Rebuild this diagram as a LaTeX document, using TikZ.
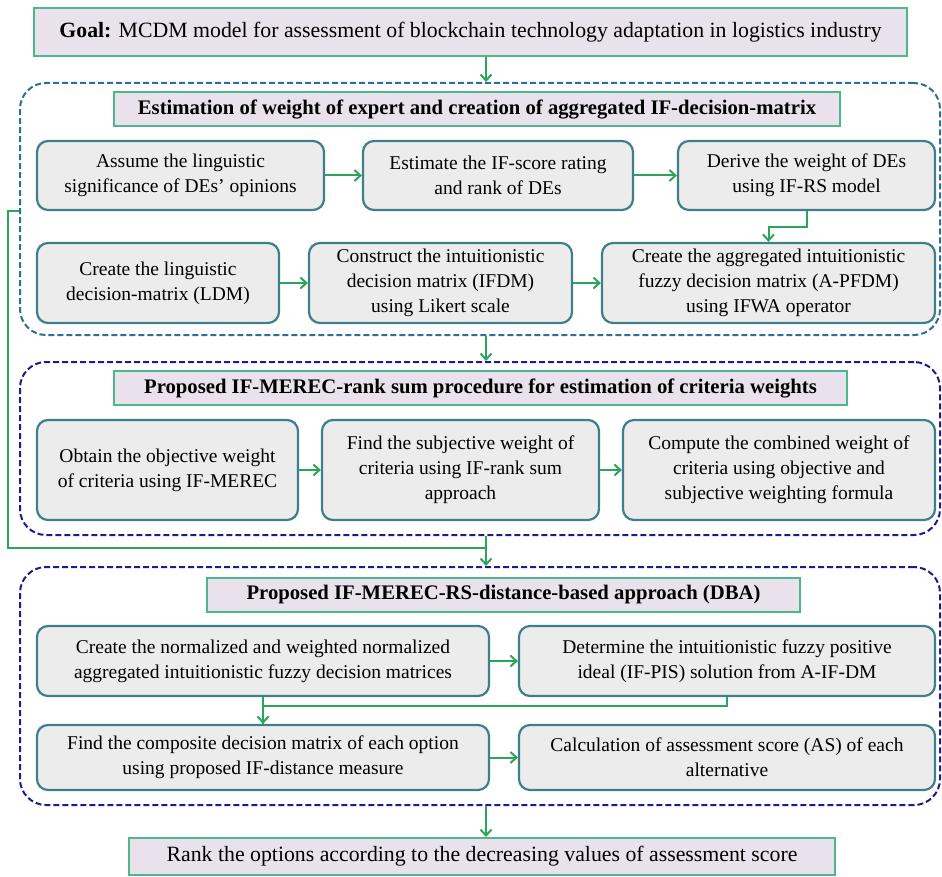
\documentclass[tikz,border=0pt]{standalone}
\usepackage{fontspec}
\setmainfont{Liberation Serif}
\usetikzlibrary{arrows.meta}
\definecolor{lav}{HTML}{E9E1EC}
\definecolor{hgreen}{HTML}{4DB68A}
\definecolor{pfill}{HTML}{ECECEC}
\definecolor{pborder}{HTML}{3F7F8C}
\definecolor{cteal}{HTML}{2D6F97}
\definecolor{cnavy}{HTML}{1C1C8C}
\definecolor{agreen}{HTML}{2EA35A}
\begin{document}
\begin{tikzpicture}[x=1pt,y=-1pt,
  txt/.style={font=\fontsize{19.5}{25}\selectfont},
  pbox/.style={txt, draw=pborder, line width=2.2pt, fill=pfill, rounded corners=11pt, align=center, inner sep=0pt},
  hbox/.style={draw=hgreen, line width=2pt, fill=lav, align=center, inner sep=0pt},
  htxt/.style={font=\fontsize{20.7}{25}\selectfont\bfseries},
  gtxt/.style={font=\fontsize{21.8}{25}\selectfont},
  cont/.style={draw=#1, line width=2pt, dash pattern=on 6pt off 3pt, rounded corners=26pt, minimum width=920pt, inner sep=0pt},
  gline/.style={draw=agreen, line width=2pt},
  arr/.style={gline, -{Straight Barb[length=6pt,width=11pt]}},
]
\useasboundingbox (0,0) rectangle (942,877);
\coordinate (sp) at (486,0);
\coordinate (jn) at (486,548);

% containers
\node[cont=cteal, minimum height=252pt] (c1) at (480,209) {};
\node[cont=cnavy, minimum height=173pt] (c2) at (480,448.5) {};
\node[cont=cnavy, minimum height=238pt] (c3) at (480,686) {};

% goal and headers
\node[hbox, gtxt, minimum width=873pt, minimum height=48pt] (goal) at (470.5,32) {\textbf{Goal:} MCDM model for assessment of blockchain technology adaptation in logistics industry};
\node[hbox, htxt, minimum width=726pt, minimum height=34pt] (h1) at (477,109) {Estimation of weight of expert and creation of aggregated IF-decision-matrix};
\node[hbox, htxt, minimum width=733pt, minimum height=34pt] (h2) at (480.5,388) {Proposed IF-MEREC-rank sum procedure for estimation of criteria weights};
\node[hbox, htxt, minimum width=593pt, minimum height=34pt] (h3) at (503.5,595) {Proposed IF-MEREC-RS-distance-based approach (DBA)};
\node[hbox, gtxt, minimum width=706pt, minimum height=37pt] (fin) at (482,856.5) {Rank the options according to the decreasing values of assessment score};

% row 1
\node[pbox, minimum width=287pt, minimum height=69pt] (A) at (180.5,175.5) {Assume the linguistic\\significance of DEs’ opinions};
\node[pbox, minimum width=270pt, minimum height=69pt] (B) at (498,175.5) {Estimate the IF-score rating\\and rank of DEs};
\node[pbox, minimum width=257pt, minimum height=69pt] (C) at (806.5,175.5) {Derive the weight of DEs\\using IF-RS model};
% row 2
\node[pbox, minimum width=242pt, minimum height=80pt] (D) at (158,283) {Create the linguistic\\decision-matrix (LDM)};
\node[pbox, minimum width=263pt, minimum height=80pt] (E) at (440.5,283) {Construct the intuitionistic\\decision matrix (IFDM)\\using Likert scale};
\node[pbox, minimum width=333pt, minimum height=80pt] (F) at (768.5,283) {Create the aggregated intuitionistic\\fuzzy decision matrix (A-PFDM)\\using IFWA operator};
% row 3
\node[pbox, minimum width=261pt, minimum height=100pt] (G) at (167.5,470) {Obtain the objective weight\\of criteria using IF-MEREC};
\node[pbox, minimum width=277pt, minimum height=100pt] (H) at (460.5,470) {Find the subjective weight of\\criteria using IF-rank sum\\approach};
\node[pbox, minimum width=312pt, minimum height=100pt] (I) at (779,470) {Compute the combined weight of\\criteria using objective and\\subjective weighting formula};
% row 4
\node[pbox, minimum width=452pt, minimum height=70pt] (J) at (263,661) {Create the normalized and weighted normalized\\aggregated intuitionistic fuzzy decision matrices};
\node[pbox, minimum width=416pt, minimum height=70pt] (K) at (727,661) {Determine the intuitionistic fuzzy positive\\ideal (IF-PIS) solution from A-IF-DM};
% row 5
\node[pbox, minimum width=452pt, minimum height=65pt] (L) at (263,757.5) {Find the composite decision matrix of each option\\using proposed IF-distance measure};
\node[pbox, minimum width=416pt, minimum height=65pt] (M) at (727,757.5) {Calculation of assessment score (AS) of each\\alternative};

% connectors
\draw[arr] (goal.south -| sp) -- (c1.north -| sp);
\draw[arr] (c1.south -| sp) -- (c2.north -| sp);
\draw[arr] (c2.south -| sp) -- (c3.north -| sp);
\draw[arr] (c3.south -| sp) -- (fin.north -| sp);
\draw[gline] (c1.west |- A.south) -- ++(-11,0) |- (jn);

\draw[arr] (A) -- (B);
\draw[arr] (B) -- (C);
\draw[arr] (C.south) -- ++(0,16) -| (F.north);
\draw[arr] (D) -- (E);
\draw[arr] (E) -- (F);
\draw[arr] (G) -- (H);
\draw[arr] (H) -- (I);
\draw[arr] (J) -- (K);
\draw[gline] (J.south) -- (L.north);
\draw[arr] (K.south) -- ++(0,9) -| (L.north);
\draw[arr] (L) -- (M);
\end{tikzpicture}
\end{document}
